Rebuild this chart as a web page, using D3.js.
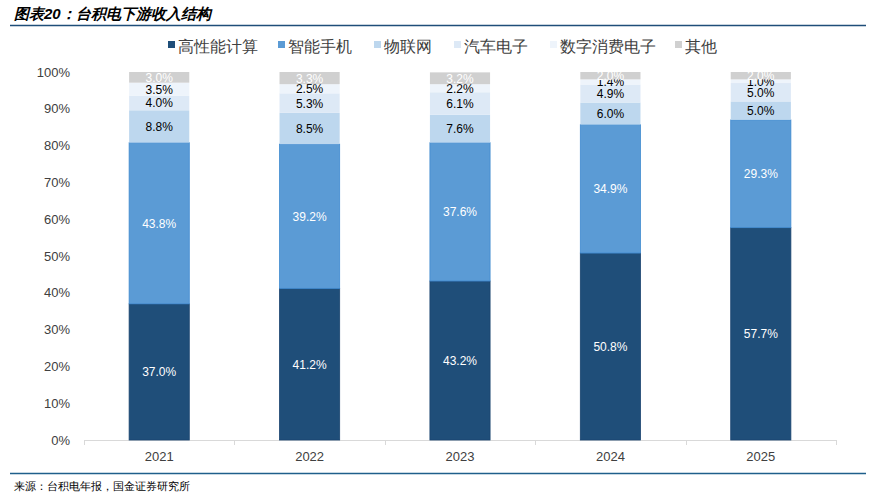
<!DOCTYPE html>
<html>
<head>
<meta charset="utf-8">
<script src="https://cdn.jsdelivr.net/npm/d3@7"></script>
<style>
  body { margin: 0; background: #fff; }
  text { font-family: "Liberation Sans", Arial, sans-serif; }
</style>
</head>
<body>
<svg id="chart"></svg>
<script>
var W = 869, H = 496;

var years = ["2021", "2022", "2023", "2024", "2025"];
var seriesNames = ["高性能计算", "智能手机", "物联网", "汽车电子", "数字消费电子", "其他"];
var hpc      = [37.0, 41.2, 43.2, 50.8, 57.7];
var phone    = [43.8, 39.2, 37.6, 34.9, 29.3];
var iot      = [8.8, 8.5, 7.6, 6.0, 5.0];
var auto     = [4.0, 5.3, 6.1, 4.9, 5.0];
var consumer = [3.5, 2.5, 2.2, 1.4, 1.0];
var other    = [3.0, 3.3, 3.2, 2.0, 2.0];
var yTicks = [0, 10, 20, 30, 40, 50, 60, 70, 80, 90, 100];

var colors = ["#1f4e79", "#5b9bd5", "#bdd7ee", "#dde9f6", "#eef4fb", "#d0d0d0"];
var labelColors = ["#fff", "#fff", "#000", "#000", "#000", "#fff"];

var rows = years.map(function(y, i) {
  return {year: y, s0: hpc[i], s1: phone[i], s2: iot[i], s3: auto[i], s4: consumer[i], s5: other[i]};
});
var keys = ["s0", "s1", "s2", "s3", "s4", "s5"];
var stacked = d3.stack().keys(keys)(rows);

var svg = d3.select("#chart").attr("width", W).attr("height", H);

// title
svg.append("text")
  .attr("x", 14).attr("y", 19)
  .attr("font-family", "'Noto Sans CJK SC', sans-serif")
  .attr("font-size", 15).attr("font-weight", "bold").attr("font-style", "italic")
  .attr("fill", "#000")
  .text("图表20：台积电下游收入结构");
svg.append("line").attr("x1", 10).attr("x2", 866).attr("y1", 25.5).attr("y2", 25.5)
  .attr("stroke", "#1f4e79").attr("stroke-width", 1.5);

// scales
var x = d3.scaleBand().domain(years).range([84, 836]).paddingInner(0.6).paddingOuter(0.3);
var y = d3.scaleLinear().domain([0, 100]).range([440, 72]);

// axes
var yAxis = svg.append("g").attr("transform", "translate(84,0)")
  .call(d3.axisLeft(y).tickValues(yTicks).tickFormat(function(d) { return d + "%"; }).tickSize(0).tickPadding(14));
yAxis.select(".domain").remove();
yAxis.selectAll("text").attr("font-size", 13).attr("fill", "#404040")
  .attr("font-family", "'Liberation Sans', Arial, sans-serif");

var xAxis = svg.append("g").attr("transform", "translate(0,440)")
  .call(d3.axisBottom(x).tickSize(0).tickPadding(12));
xAxis.select(".domain").attr("stroke", "#d9d9d9").attr("d", "M84.5,0.5H836.5");
xAxis.selectAll("text").attr("font-size", 13).attr("fill", "#404040")
  .attr("font-family", "'Liberation Sans', Arial, sans-serif");
// tick separators between categories
svg.selectAll("line.sep").data([84].concat(years.map(function(d) { return x(d) + x.bandwidth() + (x.step() - x.bandwidth()) / 2; })))
  .enter().append("line").attr("class", "sep")
  .attr("x1", function(d) { return Math.round(d) + 0.5; })
  .attr("x2", function(d) { return Math.round(d) + 0.5; })
  .attr("y1", 440).attr("y2", 445).attr("stroke", "#d9d9d9");

// bars
var layer = svg.selectAll("g.layer").data(stacked).enter().append("g").attr("class", "layer");
layer.selectAll("rect").data(function(d) { return d.map(function(p) { return {p: p, k: d.index}; }); })
  .enter().append("rect")
  .attr("x", function(d) { return x(d.p.data.year); })
  .attr("width", x.bandwidth())
  .attr("y", function(d) { return y(Math.min(d.p[1], 100)); })
  .attr("height", function(d) { return y(d.p[0]) - y(Math.min(d.p[1], 100)); })
  .attr("fill", function(d) { return colors[d.k]; })
  .attr("stroke", function(d) { return d.k === 1 ? "#3f8ad0" : (d.k === 0 ? "#1a4470" : "none"); })
  .attr("stroke-width", 0.8);

layer.selectAll("text").data(function(d) { return d.map(function(p) { return {p: p, k: d.index}; }); })
  .enter().append("text")
  .attr("x", function(d) { return x(d.p.data.year) + x.bandwidth() / 2; })
  .attr("y", function(d) { return (y(d.p[0]) + y(Math.min(d.p[1], 100))) / 2 + 4.5; })
  .attr("text-anchor", "middle")
  .attr("font-size", 12)
  .attr("fill", function(d) { return labelColors[d.k]; })
  .text(function(d) { return (d.p[1] - d.p[0]).toFixed(1) + "%"; });

// legend
var legendX = [168, 278, 374, 454, 550, 675];
var lg = svg.selectAll("g.lg").data(seriesNames).enter().append("g").attr("class", "lg")
  .attr("transform", function(d, i) { return "translate(" + legendX[i] + ",46)"; });
lg.append("rect").attr("x", 0).attr("y", -5).attr("width", 7).attr("height", 7)
  .attr("fill", function(d, i) { return colors[i]; });
lg.append("text").attr("x", 10).attr("y", 6)
  .attr("font-family", "'Noto Sans CJK SC', sans-serif")
  .attr("font-size", 16).attr("fill", "#404040")
  .text(function(d) { return d; });

// footer
svg.append("line").attr("x1", 10).attr("x2", 866).attr("y1", 473.5).attr("y2", 473.5)
  .attr("stroke", "#1f5f8b").attr("stroke-width", 1.5);
svg.append("text").attr("x", 14).attr("y", 490)
  .attr("font-family", "'Noto Sans CJK SC', sans-serif")
  .attr("font-size", 11).attr("fill", "#000")
  .text("来源：台积电年报，国金证券研究所");
</script>
</body>
</html>
